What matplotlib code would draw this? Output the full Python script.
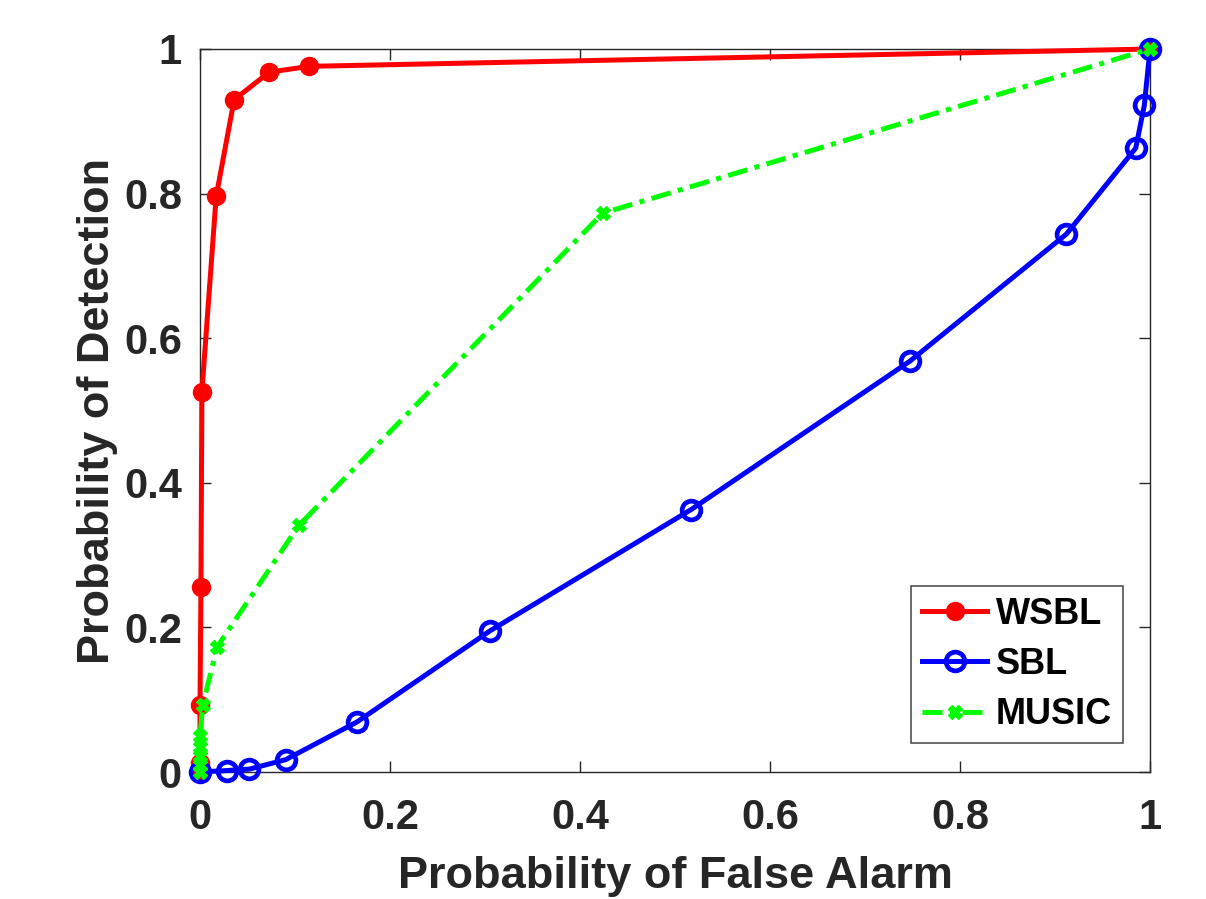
import matplotlib
matplotlib.use("Agg")
import matplotlib.pyplot as plt

# Data
wsbl_pfa = [0.0, 0.0, 0.0, 0.001, 0.002, 0.017, 0.036, 0.073, 0.115, 1.0]
wsbl_pd = [0.0, 0.012, 0.093, 0.256, 0.526, 0.796, 0.930, 0.968, 0.976, 1.0]

sbl_pfa = [0.0, 0.028, 0.052, 0.090, 0.165, 0.305, 0.517, 0.747, 0.912, 0.985, 0.994, 1.0]
sbl_pd = [0.0, 0.002, 0.004, 0.017, 0.069, 0.195, 0.363, 0.568, 0.744, 0.863, 0.922, 1.0]

music_pfa = [0.0, 0.0, 0.0, 0.0, 0.0, 0.003, 0.018, 0.104, 0.424, 1.0]
music_pd = [0.0, 0.010, 0.022, 0.035, 0.050, 0.093, 0.173, 0.341, 0.773, 1.0]

xticks = [0, 0.2, 0.4, 0.6, 0.8, 1]
yticks = [0, 0.2, 0.4, 0.6, 0.8, 1]
tick_labels = ["0", "0.2", "0.4", "0.6", "0.8", "1"]

plt.rcParams['font.family'] = ['Liberation Sans', 'DejaVu Sans']
plt.rcParams['font.weight'] = 'bold'

fig = plt.figure(figsize=(12.06, 8.99), dpi=100)
ax = fig.add_axes([200/1206, 1 - 772/899, 950/1206, 723/899])

ax.plot(wsbl_pfa, wsbl_pd, color='#ff0000', lw=3.6, marker='o', ms=13,
        mfc='#ff0000', mec='#ff0000', label='WSBL', clip_on=False, zorder=3)
ax.plot(sbl_pfa, sbl_pd, color='#0000ff', lw=3.6, marker='o', ms=13.5,
        mfc='none', mec='#0000ff', mew=3.4, label='SBL', clip_on=False, zorder=4)
ax.plot(music_pfa, music_pd, color='#00ff00', lw=3.6, ls=(0, (4, 1.5, 1, 1.5)),
        marker='X', ms=10, mfc='#00ff00', mec='#00ff00', label='MUSIC',
        clip_on=False, zorder=5)

ax.set_xlim(0, 1)
ax.set_ylim(0, 1)
ax.set_xticks(xticks)
ax.set_xticklabels(tick_labels)
ax.set_yticks(yticks)
ax.set_yticklabels(tick_labels)
ax.tick_params(direction='in', top=True, right=True, length=8, width=1,
               colors='#262626', labelsize=30)
ax.tick_params(axis='x', pad=19)
ax.tick_params(axis='y', pad=13)
for lab in ax.get_xticklabels() + ax.get_yticklabels():
    lab.set_fontweight('bold')
    lab.set_color('#262626')
for sp in ax.spines.values():
    sp.set_color('#262626')
    sp.set_linewidth(1)

ax.set_xlabel('Probability of False Alarm', fontsize=32.5, fontweight='bold',
              color='#262626', labelpad=13)
ax.set_ylabel('Probability of Detection', fontsize=32.5, fontweight='bold',
              color='#262626', labelpad=4)

leg = ax.legend(loc='lower right', bbox_to_anchor=(0.9716, 0.0401),
                prop={'weight': 'bold', 'size': 26}, frameon=True, fancybox=False,
                edgecolor='#262626', handlelength=1.8, borderpad=0.3,
                labelspacing=0.42, handletextpad=0.25, borderaxespad=0)
leg.get_frame().set_linewidth(1.2)

fig.savefig('out.png', dpi=100, facecolor='white')
